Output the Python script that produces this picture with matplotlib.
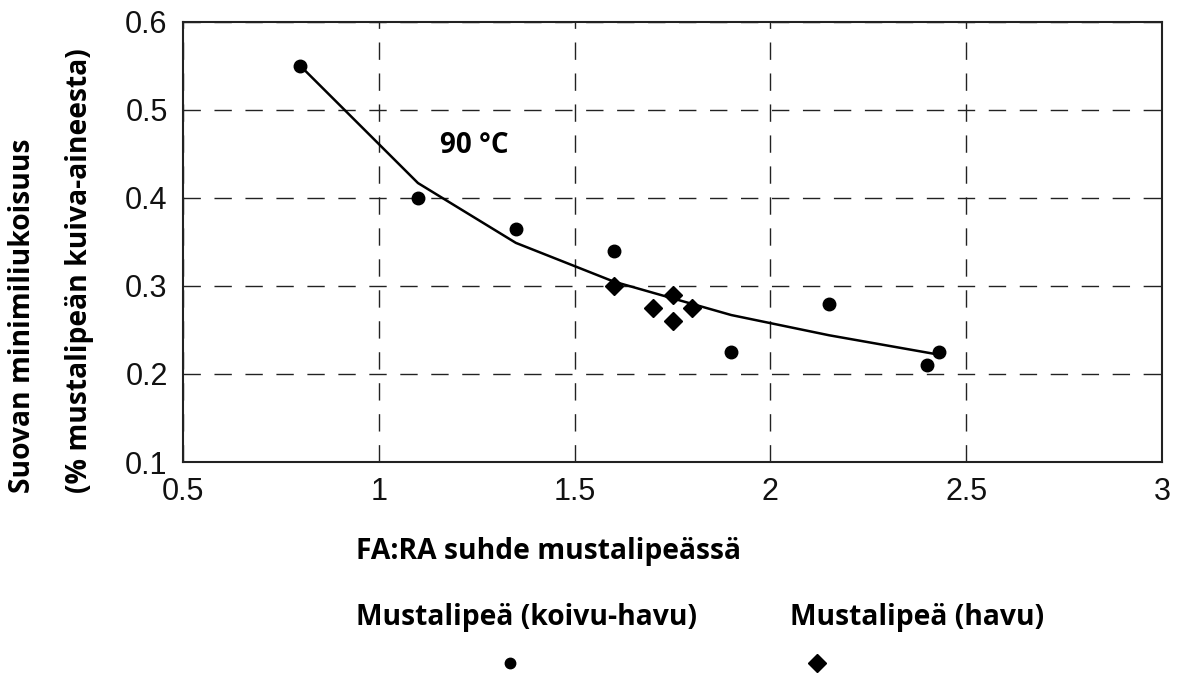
import numpy as np
import matplotlib
matplotlib.use('Agg')
import matplotlib.pyplot as plt

# Données
koivu_x = [0.8, 1.1, 1.35, 1.6, 1.9, 2.15, 2.4, 2.43]
koivu_y = [0.55, 0.40, 0.365, 0.34, 0.225, 0.28, 0.21, 0.225]

havu_x = [1.6, 1.7, 1.75, 1.75, 1.8]
havu_y = [0.30, 0.275, 0.29, 0.26, 0.275]

# Courbe de tendance (sommets lus)
fit_x = [0.8, 1.1, 1.35, 1.6, 1.9, 2.15, 2.43]
fit_y = [0.55, 0.417, 0.349, 0.305, 0.267, 0.244, 0.222]

x_ticks = [0.5, 1, 1.5, 2, 2.5, 3]
x_labels = ['0.5', '1', '1.5', '2', '2.5', '3']
y_ticks = [0.1, 0.2, 0.3, 0.4, 0.5, 0.6]
y_labels = ['0.1', '0.2', '0.3', '0.4', '0.5', '0.6']

W, H = 1182, 675
fig = plt.figure(figsize=(W / 100, H / 100), dpi=100)
ax = fig.add_axes([183 / W, 1 - 462 / H, 979 / W, 440 / H])

ax.plot(fit_x, fit_y, color='black', linewidth=1.8, zorder=2)
ax.plot(koivu_x, koivu_y, 'o', color='black', markersize=9, zorder=3)
ax.plot(havu_x, havu_y, 'D', color='black', markersize=9.5, zorder=3)

ax.set_xlim(0.5, 3)
ax.set_ylim(0.1, 0.6)
ax.set_xticks(x_ticks)
ax.set_xticklabels(x_labels)
ax.set_yticks(y_ticks)
ax.set_yticklabels(y_labels)
ax.tick_params(length=0, labelsize=22, colors='#111111',
               labelfontfamily='Liberation Sans')
ax.tick_params(axis='x', pad=11)
ax.tick_params(axis='y', pad=11)
ax.grid(True, color='#222222', linestyle=(0, (12.5, 9.8)), linewidth=1.0)
for s in ax.spines.values():
    s.set_linewidth(1.5)
    s.set_color('#222222')

ax.text(1.245, 0.46, '90 °C', fontsize=20, fontweight='bold',
        family='Open Sans', ha='center', va='center')

lab = dict(fontsize=20.3, fontweight='bold', family='Open Sans', color='black')


def px(x, y):
    return x / W, 1 - y / H


fig.text(*px(356, 551), 'FA:RA suhde mustalipeässä', ha='left', va='center', **lab)
fig.text(*px(23, 493), 'Suovan minimiliukoisuus', rotation=90,
         rotation_mode='anchor', ha='left', va='center', **lab)
fig.text(*px(79, 493), '(% mustalipeän kuiva-aineesta)', rotation=90,
         rotation_mode='anchor', ha='left', va='center', **lab)

# Légende
fig.text(*px(356, 618), 'Mustalipeä (koivu-havu)', ha='left', va='center', **lab)
fig.text(*px(790, 618), 'Mustalipeä (havu)', ha='left', va='center', **lab)
lax = fig.add_axes([0, 0, 1, 1], facecolor='none')
lax.set_xlim(0, W)
lax.set_ylim(H, 0)
lax.axis('off')
lax.plot([510], [663], 'o', color='black', markersize=7.5)
lax.plot([817], [663], 'D', color='black', markersize=9.5)

fig.savefig('out.png', dpi=100)
